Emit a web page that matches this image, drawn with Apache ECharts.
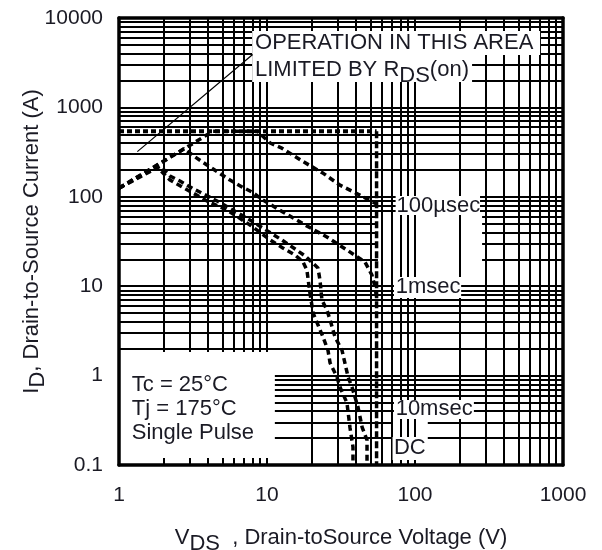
<!DOCTYPE html>
<html>
<head>
<meta charset="utf-8">
<script src="https://cdn.jsdelivr.net/npm/echarts@6/dist/echarts.min.js"></script>
<style>
html,body{margin:0;padding:0;background:#fff;}
#chart{width:602px;height:550px;}
</style>
</head>
<body>
<div id="chart"></div>
<script>
// ---------- axis structure ----------
const xRange = [1, 1000];
const yRange = [0.1, 10000];
const xDecades = [1, 10, 100];
const yDecades = [0.1, 1, 10, 100, 1000];
const decadeMultipliers = [1, 2, 3, 4, 5, 6, 7, 8, 9];

// ---------- data (V, A) ----------
const rdsLimitLine = [[1.33, 320], [8.0, 3900]];
const currentLimit = [[1, 540], [55, 540]];
const voltageLimit = [[55, 540], [55, 0.1]];
const pulse100us = [[1, 125], [2, 250], [3, 375], [4.3, 540], [8.6, 540], [10.5, 400], [12.6, 350], [17.6, 247], [24, 183], [31.1, 135], [40.4, 109], [55, 83]];
const pulse1ms = [[1, 125], [2.75, 344], [3.27, 279], [3.93, 227], [4.74, 185], [5.62, 154], [6.78, 129], [7.92, 113], [9.4, 92], [12.8, 67.6], [18.1, 48.4], [25.4, 35.5], [34.7, 25.4], [45.9, 18.7], [51.2, 13.3], [54, 9.5], [55, 7]];
const pulse10ms = [[1, 125], [1.9, 220], [2.21, 171], [2.58, 150], [3.21, 122], [4.74, 87.5], [7.68, 55], [12.6, 32.9], [18.1, 21.8], [22.1, 16], [22.8, 11.7], [23.5, 7], [25.4, 5.42], [26.7, 4.19], [28.8, 2.7], [32.1, 1.93], [35.3, 0.965], [37.5, 0.745], [41.2, 0.445], [43.9, 0.266], [47.4, 0.19], [47.4, 0.1]];
const pulseDC = [[1, 125], [1.8, 218], [2.21, 154], [2.67, 129], [3.93, 89.8], [5.37, 71.2], [7.68, 48.4], [10.5, 32.9], [12.8, 26.7], [15.5, 22.3], [17.5, 18.7], [18.6, 15.2], [19.5, 8.4], [20.5, 5.0], [21.8, 3.9], [23.9, 2.7], [25.8, 1.93], [26.7, 1.38], [29.7, 0.965], [31.1, 0.745], [34.7, 0.494], [36.4, 0.259], [38.1, 0.159], [38.1, 0.1]];

// ---------- annotations (text + anchor in data coords) ----------
const labelTexts = ['OPERATION IN THIS AREA', '{a|LIMITED BY R}{s|DS}{a|(on)}', '100µsec', '1msec', '10msec', 'DC', 'Tc = 25°C', 'Tj = 175°C', 'Single Pulse'];
const labelAnchors = [[8.3, 5000], [8.3, 2521], [75, 77], [74, 9.4], [74, 0.41], [72, 0.148], [1.22, 0.766], [1.22, 0.412], [1.22, 0.222]];
// white background boxes behind text [x1, y1, x2, y2]
const textBoxes = [[1, 0.12, 11.3, 1.84], [7.94, 3855, 700, 7160], [7.94, 1923, 243, 3855], [74, 62.5, 275, 102], [72.1, 7.4, 205, 12.7], [72.1, 0.327, 250, 0.533], [70.5, 0.114, 122, 0.206]];
// boxes that hide only horizontal grid lines
const hGapBoxes = [[56.2, 13.3, 284, 62.5], [70.5, 0.206, 122, 0.327]];

// ---------- build ----------
function gridValues(decades, max) {
  const out = [];
  decades.forEach(d => decadeMultipliers.forEach(m => out.push(+(d * m).toPrecision(6))));
  out.push(max);
  return out;
}
const vLines = gridValues(xDecades, xRange[1]).map(v => ({coords: [[v, yRange[0]], [v, yRange[1]]]}));
const hLines = gridValues(yDecades, yRange[1]).map(v => ({coords: [[xRange[0], v], [xRange[1], v]]}));

const FONT = '"Liberation Sans", Arial, sans-serif';
const TXT = '#1a1a24';
const FS = 21;
const FS_NOTE = 22;

function boxSeries(data, z) {
  return {
    type: 'custom', z: z, silent: true, clip: false,
    encode: {x: [0, 2], y: [1, 3]},
    data: data,
    renderItem: function (params, api) {
      const p1 = api.coord([api.value(0), api.value(1)]);
      const p2 = api.coord([api.value(2), api.value(3)]);
      return {
        type: 'rect',
        shape: {x: Math.min(p1[0], p2[0]), y: Math.min(p1[1], p2[1]), width: Math.abs(p2[0] - p1[0]), height: Math.abs(p2[1] - p1[1])},
        style: {fill: '#fff'}
      };
    }
  };
}
function curve(name, data, dash, width, z) {
  return {
    name: name, type: 'line', data: data, z: z, symbol: 'none', silent: true,
    lineStyle: {color: '#000', width: width, type: dash}
  };
}

const richStyles = {
  a: {fontSize: FS_NOTE, fontFamily: FONT, color: TXT, lineHeight: 25, verticalAlign: 'top', textBorderWidth: 0, opacity: 1},
  s: {fontSize: FS_NOTE, fontFamily: FONT, color: TXT, lineHeight: 25, verticalAlign: 'top', padding: [6, 0, 0, 0], textBorderWidth: 0, opacity: 1}
};

const option = {
  animation: false,
  backgroundColor: '#fff',
  grid: {left: 119, right: 39, top: 18, bottom: 85, containLabel: false, outerBoundsMode: 'none'},
  xAxis: [{
    type: 'log', logBase: 10, min: xRange[0], max: xRange[1], z: 10,
    axisLine: {show: true, lineStyle: {color: '#000', width: 3.5}},
    axisTick: {show: false}, splitLine: {show: false}, minorSplitLine: {show: false},
    axisLabel: {margin: 20, fontSize: FS, fontFamily: FONT, color: TXT, formatter: v => String(+(+v).toPrecision(6))},
    name: '{a|V}{s|DS}{a|  , Drain-toSource Voltage (V)}',
    nameLocation: 'middle', nameGap: 62,
    nameTextStyle: {rich: richStyles}
  }, {
    type: 'log', logBase: 10, min: xRange[0], max: xRange[1], position: 'top', z: 10,
    axisLine: {show: true, lineStyle: {color: '#000', width: 3.5}},
    axisTick: {show: false}, splitLine: {show: false}, axisLabel: {show: false}
  }],
  yAxis: [{
    type: 'log', logBase: 10, min: yRange[0], max: yRange[1], z: 10,
    axisLine: {show: true, lineStyle: {color: '#000', width: 3.5}},
    axisTick: {show: false}, splitLine: {show: false}, minorSplitLine: {show: false},
    axisLabel: {margin: 16, fontSize: FS, fontFamily: FONT, color: TXT, formatter: v => String(+(+v).toPrecision(6))},
    name: '{a|I}{s|D}{a|, Drain-to-Source Current (A)}',
    nameLocation: 'middle', nameGap: 73, nameMoveOverlap: false,
    nameTextStyle: {rich: richStyles}
  }, {
    type: 'log', logBase: 10, min: yRange[0], max: yRange[1], position: 'right', z: 10,
    axisLine: {show: true, lineStyle: {color: '#000', width: 3.5}},
    axisTick: {show: false}, splitLine: {show: false}, axisLabel: {show: false}
  }],
  series: [
    {type: 'lines', coordinateSystem: 'cartesian2d', z: 1, silent: true, data: hLines,
     lineStyle: {color: '#000', width: 2, opacity: 1}},
    boxSeries(hGapBoxes, 2),
    {type: 'lines', coordinateSystem: 'cartesian2d', z: 3, silent: true, data: vLines,
     lineStyle: {color: '#000', width: 2, opacity: 1}},
    boxSeries(textBoxes, 4),
    curve('RDS(on) limit', rdsLimitLine, 'solid', 1.2, 5),
    curve('Current limit', currentLimit, [5, 3], 4, 6),
    curve('Voltage limit', voltageLimit, [7, 3], 3.5, 6),
    curve('100µsec', pulse100us, [6, 4], 3.5, 6),
    curve('1msec', pulse1ms, [6, 4], 3.5, 6),
    curve('10msec', pulse10ms, [6, 4], 3.5, 6),
    curve('DC', pulseDC, [6, 4], 3.5, 6),
    {
      type: 'scatter', z: 8, silent: true, symbolSize: 0, itemStyle: {color: '#fff', opacity: 1},
      data: labelAnchors.map((p, i) => ({
        value: p,
        label: {
          show: true, position: [0, 0], align: 'left', verticalAlign: 'middle',
          color: TXT, opacity: 1, textBorderWidth: 0,
          formatter: labelTexts[i].indexOf('{') === 0 ? labelTexts[i] : '{a|' + labelTexts[i] + '}',
          rich: richStyles
        }
      }))
    }
  ]
};

const chart = echarts.init(document.getElementById('chart'), null, {renderer: 'canvas'});
chart.setOption(option);
</script>
</body>
</html>
